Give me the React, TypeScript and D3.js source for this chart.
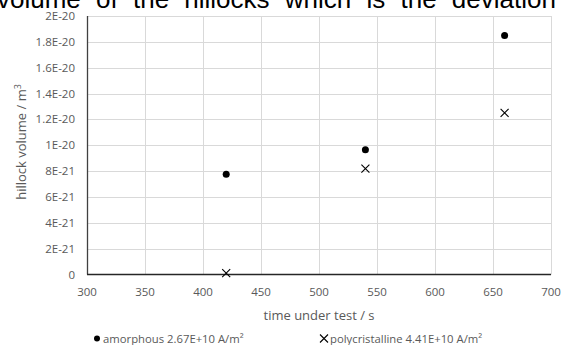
import React, { useRef, useEffect } from "react";
import * as d3 from "d3";

// chart data
const amorphousTime = [420, 540, 660];
const amorphousVolume = [7.75e-21, 9.65e-21, 1.85e-20];
const polyTime = [420, 540, 660];
const polyVolume = [1e-22, 8.2e-21, 1.25e-20];
const xTicks = [300, 350, 400, 450, 500, 550, 600, 650, 700];
const yTicks = [0, 2e-21, 4e-21, 6e-21, 8e-21, 1e-20, 1.2e-20, 1.4e-20, 1.6e-20, 1.8e-20, 2e-20];
const yTickLabels = ["0", "2E-21", "4E-21", "6E-21", "8E-21", "1E-20", "1.2E-20", "1.4E-20", "1.6E-20", "1.8E-20", "2E-20"];
const legendLabels = ["amorphous 2.67E+10 A/m²", "polycristalline 4.41E+10 A/m²"];
const clippedCaption = "volume of the hillocks which is the deviation";

const App = () => {
    const ref = useRef<SVGSVGElement>(null);

    useEffect(() => {
        const svgWidth = 564;
        const svgHeight = 345;
        const margin = { top: 16, right: 13, bottom: 70.5, left: 87 };
        const fontColor = "#595959";
        const gridColor = "#d9d9d9";
        const font = "'Open Sans', sans-serif";

        const svg = d3.select(ref.current)
            .attr("width", svgWidth)
            .attr("height", svgHeight);
        svg.selectAll("*").remove();

        svg.append("rect").attr("width", svgWidth).attr("height", svgHeight).attr("fill", "#fff");

        // text of the page above, cut off at the top
        svg.append("text")
            .attr("x", -3)
            .attr("y", 8)
            .style("font-family", "'Liberation Sans', Arial, sans-serif")
            .style("font-size", "26px")
            .style("word-spacing", "8px")
            .style("fill", "#000")
            .text(clippedCaption);

        const xScale = d3.scaleLinear()
            .domain([300, 700])
            .range([margin.left, svgWidth - margin.right]);

        const yScale = d3.scaleLinear()
            .domain([0, 2e-20])
            .range([svgHeight - margin.bottom, margin.top]);

        // grid lines
        const grid = svg.append("g");
        grid.selectAll(".ygrid")
            .data(yTicks.slice(1))
            .join("line")
            .attr("x1", margin.left)
            .attr("x2", svgWidth - margin.right)
            .attr("y1", d => Math.round(yScale(d)) + 0.5)
            .attr("y2", d => Math.round(yScale(d)) + 0.5)
            .attr("stroke", gridColor);
        grid.selectAll(".xgrid")
            .data(xTicks.slice(1))
            .join("line")
            .attr("x1", d => Math.round(xScale(d)) + 0.5)
            .attr("x2", d => Math.round(xScale(d)) + 0.5)
            .attr("y1", margin.top)
            .attr("y2", svgHeight - margin.bottom)
            .attr("stroke", gridColor);

        // axes lines
        svg.append("line")
            .attr("x1", margin.left + 0.5).attr("x2", margin.left + 0.5)
            .attr("y1", margin.top).attr("y2", svgHeight - margin.bottom)
            .attr("stroke", "#404040").attr("stroke-width", 1.3);
        svg.append("line")
            .attr("x1", margin.left).attr("x2", svgWidth - margin.right)
            .attr("y1", svgHeight - margin.bottom).attr("y2", svgHeight - margin.bottom)
            .attr("stroke", "#262626").attr("stroke-width", 1.3);

        // tick labels
        svg.selectAll(".xlabel")
            .data(xTicks)
            .join("text")
            .attr("x", d => xScale(d))
            .attr("y", 296)
            .attr("text-anchor", "middle")
            .style("font-family", font)
            .style("font-size", "11.5px")
            .style("fill", fontColor)
            .text(d => d);

        svg.selectAll(".ylabel")
            .data(yTicks)
            .join("text")
            .attr("x", margin.left - 12)
            .attr("y", d => yScale(d) + 4)
            .attr("text-anchor", "end")
            .style("font-family", font)
            .style("font-size", "11.5px")
            .style("fill", fontColor)
            .text((d, i) => yTickLabels[i]);

        // axis titles
        svg.append("text")
            .attr("x", (margin.left + svgWidth - margin.right) / 2)
            .attr("y", 320)
            .attr("text-anchor", "middle")
            .style("font-family", font)
            .style("font-size", "13px")
            .style("fill", fontColor)
            .text("time under test / s");

        const yTitle = svg.append("text")
            .attr("transform", `translate(26, 142) rotate(-90)`)
            .attr("text-anchor", "middle")
            .style("font-family", font)
            .style("font-size", "13px")
            .style("fill", fontColor);
        yTitle.append("tspan").text("hillock volume / m");
        yTitle.append("tspan").attr("dy", -5).style("font-size", "9px").text("3");

        // amorphous points
        svg.selectAll(".dot")
            .data(amorphousTime)
            .join("circle")
            .attr("cx", d => xScale(d))
            .attr("cy", (d, i) => yScale(amorphousVolume[i]))
            .attr("r", 3.5)
            .attr("fill", "#000");

        // polycristalline points as crosses
        const s = 4;
        svg.selectAll(".cross")
            .data(polyTime)
            .join("path")
            .attr("d", (d, i) => {
                const cx = xScale(d);
                const cy = yScale(polyVolume[i]);
                return `M${cx - s},${cy - s}L${cx + s},${cy + s}M${cx - s},${cy + s}L${cx + s},${cy - s}`;
            })
            .attr("stroke", "#000")
            .attr("stroke-width", 1.1)
            .attr("fill", "none");

        // legend
        const legendY = 338.5;
        svg.append("circle").attr("cx", 97).attr("cy", legendY).attr("r", 3).attr("fill", "#000");
        svg.append("text")
            .attr("x", 103).attr("y", legendY + 4)
            .style("font-family", font).style("font-size", "11.3px").style("fill", fontColor)
            .text(legendLabels[0]);
        svg.append("path")
            .attr("d", `M${320},${legendY - 4}L${328},${legendY + 4}M${320},${legendY + 4}L${328},${legendY - 4}`)
            .attr("stroke", "#000").attr("stroke-width", 1.1);
        svg.append("text")
            .attr("x", 330).attr("y", legendY + 4)
            .style("font-family", font).style("font-size", "11.3px").style("fill", fontColor)
            .text(legendLabels[1]);
    }, []);

    return (
        <div style={{ position: "absolute", left: 0, top: 0 }}>
            <svg ref={ref} style={{ display: "block" }}></svg>
        </div>
    );
};

export default App;
